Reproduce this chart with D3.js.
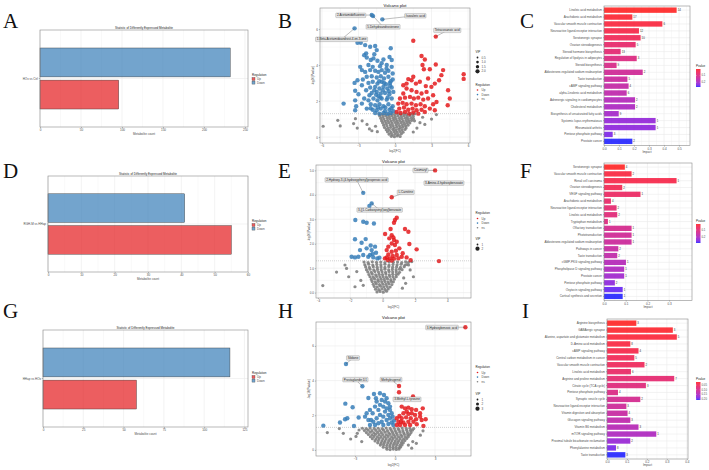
<!DOCTYPE html>
<html>
<head>
<meta charset="utf-8">
<script src="https://cdn.jsdelivr.net/npm/d3@7"></script>
<style>
body { margin: 0; background: #fff; }
svg { display: block; }
</style>
</head>
<body>
<script>
////// data: differential metabolite counts (A, D, G)
var regulation = ['Down', 'Up']
var countsA = [232, 96]
var countsD = [41, 55]
var countsG = [116, 58]
var groupA = 'HOx vs Ctrl'
var groupD = 'RGH-M vs HHap'
var groupG = 'HHap vs HOx'
var ticksA = [0, 50, 100, 150, 200, 250]
var ticksD = [0, 10, 20, 30, 40, 50, 60]
var ticksG = [0, 25, 50, 75, 100, 125]

////// data: volcano B  [log2FC, -log10 p]
var volcB_down = [[-1.91,6.78],[-1.8,6.72],[-1.04,6.54],[-3.32,6.04],[-3.08,5.24],[-2.81,5.24],[-2.45,5.11],[-2.04,5.02],[-1.63,5.06],[-1.5,4.83],[-0.35,4.93],[-2.37,4.65],[-2.53,4.55],
  [-2.32,4.42],[-1.99,4.28],[-1.77,4.37],[-1.44,4.24],[-0.95,4.31],[-0.27,4.28],[-2.86,3.9],[-2.72,3.72],[-2.18,4.0],[-1.83,3.9],[-1.23,3.94],[-0.68,4.0],[-0.27,3.9],
  [-3.08,3.16],[-2.45,3.62],[-2.04,3.72],[-1.63,3.68],[-1.36,3.62],[-1.09,3.72],[-0.82,3.57],[-0.54,3.68],[-0.19,3.53],[-2.32,3.35],[-1.91,3.38],[-1.5,3.31],[-1.17,3.38],[-0.9,3.25],[-0.54,3.35],[-0.19,3.2],[-2.64,3.2],
  [-3.32,3.01],[-2.18,3.01],[-1.83,3.07],[-1.44,2.97],[-1.09,3.07],[-0.74,2.94],[-0.41,3.01],[-2.04,2.75],[-1.63,2.79],[-1.28,2.7],[-0.95,2.79],[-0.63,2.7],[-0.27,2.75],[-2.37,2.6],[-1.91,2.45],[-1.5,2.51],[-1.17,2.42],[-0.82,2.45],[-0.46,2.38],[-0.14,2.51],[-3.27,2.57],[-3.0,2.38],[-2.72,2.88],
  [-4.22,1.86],[-3.27,2.04],[-3.19,1.71],[-3.27,1.49],[-2.53,2.14],[-2.18,2.04],[-1.77,2.14],[-1.44,2.04],[-1.09,2.14],[-0.68,2.08],[-0.27,2.14],[-1.99,1.82],[-1.63,1.77],[-1.28,1.82],[-0.95,1.71],[-0.54,1.82],[-0.19,1.71],[-2.32,1.58],[-1.83,1.52],[-1.5,1.49],[-1.17,1.58],[-0.82,1.45],[-0.46,1.52],[-0.14,1.43],[-1.63,1.34],[-1.28,1.3],[-0.95,1.34],[-0.63,1.3],[-0.35,1.34],[-2.72,1.86],[-2.1,2.32],[-1.36,2.27],
  [-1.7,2.6],[-1.0,2.6],[-0.6,2.2],[-1.2,2.2],[-0.3,1.6],[-0.8,1.65],[-1.4,1.65],[-2.0,1.6],[-0.5,2.55],[-1.55,2.35],[-0.9,3.0],[-1.3,3.1],[-0.35,3.1],[-0.7,3.8],[-1.1,4.1],[-0.45,4.45],[-1.7,4.6],[-0.4,2.85]]
var volcB_up = [[3.35,5.58],[1.5,5.35],[2.18,4.5],[2.45,4.31],[2.37,3.77],[2.26,4.0],[2.86,3.77],[3.35,4.03],[3.95,3.72],[3.81,3.44],[3.62,3.16],[5.64,3.49],[5.64,3.23],[4.36,2.6],[4.5,2.14],[4.33,1.77],
  [1.09,3.22],[0.68,2.88],[1.36,3.16],[1.72,2.97],[2.04,3.07],[2.53,2.83],[2.99,2.79],[3.27,2.97],[0.95,2.7],[1.36,2.6],[1.77,2.51],[2.18,2.42],[2.59,2.51],[3.13,2.32],[0.68,2.42],[0.41,2.14],[0.82,2.19],[1.23,2.23],[1.55,2.14],[1.91,2.19],[2.32,2.08],[2.72,2.14],[3.41,1.95],
  [0.27,1.86],[0.63,1.9],[0.95,1.82],[1.36,1.86],[1.72,1.77],[2.1,1.82],[2.45,1.71],[2.86,1.58],[3.13,1.82],[0.35,1.58],[0.74,1.64],[1.09,1.52],[1.44,1.58],[1.77,1.49],[2.18,1.52],[0.14,1.39],[0.46,1.34],[0.82,1.39],[1.17,1.3],[1.5,1.36],[1.91,1.3],[2.45,1.39],[3.27,1.49],[1.5,3.35],[2.72,3.25],[0.95,2.97]]
var volcB_ns = [[-0.3,0.04],[-0.05,0.02],[0.18,0.06],[0.42,0.03],[-0.48,0.16],[-0.22,0.13],[0.03,0.17],[0.27,0.14],[0.52,0.18],
  [-0.62,0.29],[-0.33,0.26],[-0.08,0.3],[0.17,0.27],[0.41,0.31],[0.66,0.27],[-0.72,0.41],[-0.47,0.38],[-0.18,0.42],[0.06,0.39],[0.31,0.43],[0.57,0.4],[0.82,0.42],
  [-0.86,0.53],[-0.58,0.5],[-0.36,0.54],[-0.09,0.51],[0.14,0.55],[0.42,0.52],[0.63,0.55],[0.91,0.51],[-0.93,0.66],[-0.66,0.63],[-0.38,0.67],[-0.16,0.64],[0.11,0.68],[0.36,0.64],[0.61,0.67],[0.86,0.63],[1.07,0.66],
  [-1.02,0.79],[-0.74,0.76],[-0.52,0.8],[-0.24,0.77],[0.02,0.81],[0.26,0.77],[0.51,0.8],[0.77,0.76],[0.99,0.8],[1.22,0.78],[-1.1,0.91],[-0.83,0.88],[-0.61,0.92],[-0.34,0.89],[-0.11,0.93],[0.16,0.89],[0.39,0.92],[0.66,0.88],[0.91,0.92],[1.14,0.89],[1.36,0.92],
  [-1.17,1.04],[-0.92,1.01],[-0.64,1.05],[-0.41,1.02],[-0.14,1.05],[0.09,1.01],[0.36,1.04],[0.59,1.02],[0.86,1.05],[1.09,1.01],[1.34,1.04],[1.52,1.02],
  [-1.26,1.17],[-0.99,1.14],[-0.76,1.18],[-0.49,1.15],[-0.26,1.18],[0.01,1.14],[0.24,1.17],[0.51,1.15],[0.74,1.18],[1.01,1.14],[1.24,1.17],[1.49,1.15],
  [-1.31,1.28],[-1.04,1.26],[-0.81,1.29],[-0.54,1.27],[-0.29,1.29],[-0.04,1.26],[0.21,1.29],[0.46,1.27],[0.71,1.29],[0.94,1.26],[1.21,1.28],[1.44,1.27],[1.62,1.29],
  [-5.9,0.6],[-4.7,0.93],[-4.5,0.62],[-3.4,0.75],[-3.25,1.02],[-3.1,0.5],[-2.7,0.9],[-2.3,0.7],[-2.1,0.45],[-1.9,0.35],[-1.6,0.6],[-1.45,0.3],[1.6,0.9],[1.8,0.5],[1.5,0.28],[2.05,0.8],[2.27,1.1],[2.45,0.7],[3.0,1.0],[3.4,1.25]]
var labelsB = [
  { name: '2-Acetamidofluorene', fc: -1.91, logp: 6.78 },
  { name: '5-Dehydroandrosterone', fc: -1.8, logp: 6.72 },
  { name: 'Isovaleric acid', fc: -1.04, logp: 6.54 },
  { name: '1-Beta-Acetamidoandrost-4-en-3-one', fc: -3.32, logp: 6.04 },
  { name: 'Tetracosanoic acid', fc: 3.35, logp: 5.58 }
]
var vipB = [0.5, 1.0, 1.5, 2.0]

////// data: volcano E
var volcE_down = [[-1.2,4.08],[-0.68,3.65],[-0.82,3.54],[-1.69,2.97],[-1.2,2.9],[-0.99,2.86],[-0.54,2.83],[-1.71,2.18],[-1.05,2.19],[-1.3,2.04],[-0.74,1.93],[-0.99,1.81],[-0.68,1.74],[-0.41,1.63],[-1.4,1.74],[-1.92,1.47],[-1.71,1.44],[-1.5,1.47],[-1.2,1.54],[-0.89,1.47],[-0.58,1.44],[-0.33,1.4],[-0.62,1.58],[-0.47,1.88],[-0.2,1.43],[-0.78,1.54]]
var volcE_up = [[3.24,5.0],[0.56,3.9],[3.48,1.29],[0.87,3.06],[0.76,2.97],[0.7,2.86],[0.49,2.6],[1.38,2.6],[1.59,2.49],[0.15,2.4],[0.56,2.35],[0.66,2.26],[0.7,2.15],[0.41,2.22],[0.87,2.08],[0.56,2.01],[0.76,1.95],[0.35,1.88],[1.03,1.81],[2.1,1.77],[1.65,1.99],[0.25,1.74],[0.56,1.67],[0.82,1.71],[0.35,1.56],[0.62,1.5],[0.87,1.54],[1.18,1.47],[1.48,1.44],[0.25,1.44],[0.45,1.4],[0.7,1.39],[0.97,1.4],[1.73,1.33],[0.31,1.33],[0.56,1.31],[0.14,1.4],[1.24,1.61]]
var volcE_ns = [[-0.35,0.03],[-0.16,0.05],[0.04,0.02],[0.24,0.06],[-0.44,0.14],[-0.24,0.12],[-0.05,0.15],[0.14,0.13],[0.34,0.15],
  [-0.52,0.25],[-0.33,0.23],[-0.13,0.26],[0.07,0.24],[0.27,0.25],[0.46,0.23],[-0.58,0.34],[-0.39,0.36],[-0.2,0.33],[0.0,0.35],[0.2,0.34],[0.39,0.36],[0.57,0.33],
  [-0.65,0.45],[-0.45,0.43],[-0.26,0.46],[-0.06,0.44],[0.14,0.45],[0.33,0.43],[0.52,0.46],[0.66,0.44],[-0.7,0.54],[-0.5,0.56],[-0.3,0.53],[-0.1,0.55],[0.1,0.54],[0.3,0.56],[0.5,0.53],[0.72,0.55],
  [-0.78,0.65],[-0.58,0.63],[-0.37,0.66],[-0.17,0.64],[0.03,0.65],[0.23,0.63],[0.44,0.66],[0.64,0.64],[0.84,0.65],[-0.85,0.74],[-0.64,0.76],[-0.43,0.73],[-0.22,0.75],[-0.01,0.74],[0.2,0.76],[0.41,0.73],[0.62,0.75],[0.83,0.74],[0.96,0.76],
  [-0.92,0.85],[-0.7,0.83],[-0.48,0.86],[-0.26,0.84],[-0.04,0.85],[0.18,0.83],[0.4,0.86],[0.62,0.84],[0.84,0.85],[1.04,0.83],[-1.0,0.94],[-0.78,0.96],[-0.55,0.93],[-0.32,0.95],[-0.09,0.94],[0.14,0.96],[0.37,0.93],[0.6,0.95],[0.83,0.94],[1.04,0.96],[1.2,0.94],
  [-1.05,1.05],[-0.82,1.03],[-0.58,1.06],[-0.34,1.04],[-0.1,1.05],[0.14,1.03],[0.38,1.06],[0.62,1.04],[0.86,1.05],[1.1,1.03],[1.33,1.06],
  [-1.1,1.14],[-0.86,1.16],[-0.61,1.13],[-0.36,1.15],[-0.11,1.14],[0.14,1.16],[0.39,1.13],[0.64,1.15],[0.89,1.14],[1.14,1.16],[1.38,1.13],[1.5,1.15],
  [-1.15,1.25],[-0.9,1.23],[-0.64,1.26],[-0.38,1.24],[-0.12,1.25],[0.14,1.23],[0.4,1.26],[0.66,1.24],[0.92,1.25],[1.18,1.23],[1.42,1.26],[1.6,1.24],
  [-3.7,0.29],[-2.85,0.84],[-2.33,1.13],[-2.23,0.99],[-2.1,0.65],[-1.71,0.24],[-1.6,0.86],[-1.35,0.5],[-1.2,0.3],[1.6,1.13],[1.7,0.93],[1.9,0.65],[1.42,0.38],[1.22,0.18],[1.8,1.27],[1.3,0.6]]
var labelsE = [
  { name: 'Coumaryl', fc: 3.24, logp: 5.0 },
  { name: '3-Amino-4-hydroxybenzoate', fc: 3.48, logp: 1.29 },
  { name: 'L-Carnitine', fc: 0.56, logp: 3.9 },
  { name: '2-Hydroxy-3-(4-hydroxyphenyl)propenoic acid', fc: -1.2, logp: 4.08 },
  { name: '3-[(1-Carboxyvinyl)oxy]benzoate', fc: -0.68, logp: 3.65 }
]
var vipE = [1, 2]

////// data: volcano H
var volcH_down = [[-3.68,4.96],[-2.45,3.67],[-2.0,3.0],[-1.58,3.23],[-1.43,2.98],[-1.13,3.27],[-0.83,3.17],[-3.73,2.67],[-3.18,2.46],[-3.75,1.77],[-3.58,1.83],[-4.13,1.58],[-5.38,1.4],[-3.08,1.38],[-2.73,1.87],[-2.25,1.92],[-2.13,2.12],
  [-1.88,2.31],[-1.8,1.73],[-1.68,2.12],[-1.5,2.5],[-1.38,2.79],[-1.25,2.31],[-1.13,2.6],[-1.0,2.88],[-0.88,2.5],[-0.75,2.79],[-0.63,2.4],[-0.5,2.69],[-0.38,2.31],[-0.25,2.12],[-1.63,1.63],[-1.38,1.83],[-1.13,2.02],[-0.88,1.92],[-0.63,1.73],[-0.38,1.83],
  [-1.25,1.54],[-0.88,1.44],[-0.5,1.5],[-0.25,1.58],[-0.13,1.44],[-1.0,1.63],[-0.75,2.21],[-0.5,2.02],[-1.5,1.44],[-1.88,1.44],[-2.0,1.73],[-0.63,2.98],[-0.38,2.5],[-0.18,1.92],[-0.08,1.69]]
var volcH_up = [[5.28,7.08],[0.3,3.69],[0.3,3.33],[1.35,3.08],[0.5,2.5],[0.75,2.4],[1.0,2.44],[1.25,2.35],[1.58,2.31],[2.08,2.4],[1.88,2.12],[1.5,2.02],[1.0,2.08],[0.63,2.12],[0.33,1.96],[0.5,1.83],[0.83,1.88],[1.18,1.83],[1.58,1.77],[2.0,1.73],[2.3,1.77],
  [1.38,1.63],[1.0,1.63],[0.63,1.58],[0.25,1.63],[0.38,1.44],[0.75,1.44],[1.13,1.44],[1.63,1.48],[2.13,1.38],[0.13,1.44],[1.88,1.92],[1.25,2.12],[0.88,2.21],[0.13,1.83],[0.45,1.63]]
var volcH_ns = [[-0.6,0.04],[-0.37,0.02],[-0.13,0.05],[0.1,0.03],[0.3,0.05],[-0.88,0.16],[-0.64,0.14],[-0.4,0.17],[-0.16,0.15],[0.08,0.16],[0.32,0.14],[0.42,0.17],
  [-1.1,0.28],[-0.86,0.3],[-0.61,0.27],[-0.37,0.29],[-0.12,0.28],[0.12,0.3],[0.36,0.27],[0.52,0.29],[-1.3,0.41],[-1.05,0.39],[-0.8,0.42],[-0.55,0.4],[-0.3,0.41],[-0.05,0.39],[0.2,0.42],[0.45,0.4],[0.62,0.41],
  [-1.5,0.52],[-1.25,0.54],[-0.99,0.51],[-0.74,0.53],[-0.48,0.52],[-0.23,0.54],[0.02,0.51],[0.27,0.53],[0.52,0.52],[0.74,0.54],
  [-1.7,0.65],[-1.44,0.63],[-1.18,0.66],[-0.92,0.64],[-0.66,0.65],[-0.4,0.63],[-0.14,0.66],[0.12,0.64],[0.38,0.65],[0.64,0.63],[0.88,0.66],
  [-1.85,0.76],[-1.58,0.78],[-1.32,0.75],[-1.05,0.77],[-0.79,0.76],[-0.52,0.78],[-0.26,0.75],[0.0,0.77],[0.26,0.76],[0.52,0.78],[0.78,0.75],[1.0,0.77],
  [-2.0,0.89],[-1.73,0.87],[-1.46,0.9],[-1.19,0.88],[-0.92,0.89],[-0.65,0.87],[-0.38,0.9],[-0.11,0.88],[0.16,0.89],[0.43,0.87],[0.7,0.9],[0.95,0.88],[1.1,0.89],
  [-2.15,1.0],[-1.87,1.02],[-1.59,0.99],[-1.31,1.01],[-1.03,1.0],[-0.75,1.02],[-0.47,0.99],[-0.19,1.01],[0.09,1.0],[0.37,1.02],[0.65,0.99],[0.93,1.01],[1.2,1.0],
  [-2.3,1.12],[-2.02,1.14],[-1.73,1.11],[-1.44,1.13],[-1.15,1.12],[-0.86,1.14],[-0.57,1.11],[-0.28,1.13],[0.01,1.12],[0.3,1.14],[0.59,1.11],[0.88,1.13],[1.16,1.12],[1.3,1.14],
  [-2.45,1.25],[-2.16,1.23],[-1.86,1.26],[-1.56,1.24],[-1.26,1.25],[-0.96,1.23],[-0.66,1.26],[-0.36,1.24],[-0.06,1.25],[0.24,1.23],[0.54,1.26],[0.84,1.24],[1.12,1.25],[1.4,1.23],
  [-5.08,1.0],[-4.18,1.23],[-3.88,0.96],[-3.33,0.63],[-2.83,0.96],[-2.93,0.78],[-2.5,0.48],[-2.7,1.15],[1.33,0.48],[1.6,0.38],[1.0,0.28],[1.25,0.1],[1.9,0.85],[2.1,1.1]]
var labelsH = [
  { name: '3-Hydroxybenzoic acid', fc: 5.28, logp: 7.08 },
  { name: 'Sildione', fc: -3.68, logp: 4.96 },
  { name: 'Prostaglandin D1', fc: -2.45, logp: 3.67 },
  { name: 'Methyleugenol', fc: 0.3, logp: 3.69 },
  { name: '3-Methyl-L-tyrosine', fc: 1.35, logp: 3.08 }
]
var vipH = [1, 2, 3]

////// data: KEGG pathway enrichment (C, F, I)
var pathC = ['Linoleic acid metabolism', 'Arachidonic acid metabolism', 'Vascular smooth muscle contraction', 'Neuroactive ligand-receptor interaction', 'Serotonergic synapse', 'Ovarian steroidogenesis', 'Steroid hormone biosynthesis', 'Regulation of lipolysis in adipocytes', 'Steroid biosynthesis', 'Aldosterone-regulated sodium reabsorption', 'Taste transduction', 'cAMP signaling pathway', 'alpha-Linolenic acid metabolism', 'Adrenergic signaling in cardiomyocytes', 'Cholesterol metabolism', 'Biosynthesis of unsaturated fatty acids', 'Systemic lupus erythematosus', 'Rheumatoid arthritis', 'Pentose phosphate pathway', 'Prostate cancer']
var impactC = [0.484, 0.189, 0.389, 0.233, 0.244, 0.211, 0.111, 0.218, 0.084, 0.258, 0.156, 0.164, 0.151, 0.207, 0.207, 0.098, 0.344, 0.344, 0.058, 0.189]
var hitsC = [14, 17, 6, 12, 10, 5, 13, 3, 9, 2, 5, 4, 6, 2, 2, 9, 1, 1, 3, 2]
var pvalC = [0.005, 0.012, 0.02, 0.03, 0.045, 0.07, 0.08, 0.1, 0.11, 0.13, 0.14, 0.15, 0.16, 0.18, 0.19, 0.2, 0.22, 0.225, 0.24, 0.27]
var pTicksC = [0.1, 0.2]

var pathF = ['Serotonergic synapse', 'Vascular smooth muscle contraction', 'Renal cell carcinoma', 'Ovarian steroidogenesis', 'VEGF signaling pathway', 'Arachidonic acid metabolism', 'Neuroactive ligand-receptor interaction', 'Linoleic acid metabolism', 'Tryptophan metabolism', 'Olfactory transduction', 'Phototransduction', 'Aldosterone-regulated sodium reabsorption', 'Pathways in cancer', 'Taste transduction', 'cGMP-PKG signaling pathway', 'Phospholipase D signaling pathway', 'Prostate cancer', 'Pentose phosphate pathway', 'Oxytocin signaling pathway', 'Cortisol synthesis and secretion']
var impactF = [0.096, 0.127, 0.334, 0.084, 0.168, 0.032, 0.058, 0.061, 0.018, 0.127, 0.127, 0.127, 0.066, 0.061, 0.101, 0.093, 0.093, 0.05, 0.086, 0.086]
var hitsF = [4, 2, 1, 2, 1, 4, 2, 2, 1, 1, 1, 1, 2, 2, 1, 1, 1, 2, 1, 1]
var pvalF = [0.014, 0.03, 0.04, 0.05, 0.07, 0.08, 0.09, 0.1, 0.11, 0.13, 0.14, 0.15, 0.16, 0.17, 0.19, 0.2, 0.22, 0.24, 0.27, 0.286]
var pTicksF = [0.1, 0.2]

var pathI = ['Arginine biosynthesis', 'GABAergic synapse', 'Alanine, aspartate and glutamate metabolism', 'D-Amino acid metabolism', 'cAMP signaling pathway', 'Central carbon metabolism in cancer', 'Vascular smooth muscle contraction', 'Linoleic acid metabolism', 'Arginine and proline metabolism', 'Citrate cycle (TCA cycle)', 'Pentose phosphate pathway', 'Synaptic vesicle cycle', 'Neuroactive ligand-receptor interaction', 'Vitamin digestion and absorption', 'Glucagon signaling pathway', 'Vitamin B6 metabolism', 'mTOR signaling pathway', 'Proximal tubule bicarbonate reclamation', 'Phenylalanine metabolism', 'Taste transduction']
var impactI = [0.147, 0.33, 0.35, 0.117, 0.158, 0.137, 0.188, 0.12, 0.337, 0.195, 0.055, 0.167, 0.097, 0.103, 0.117, 0.158, 0.247, 0.117, 0.045, 0.092]
var hitsI = [3, 3, 5, 8, 4, 5, 2, 6, 7, 3, 4, 2, 3, 4, 3, 3, 1, 2, 8, 3]
var pvalI = [0.017, 0.02, 0.025, 0.03, 0.035, 0.045, 0.05, 0.06, 0.07, 0.08, 0.09, 0.1, 0.11, 0.12, 0.13, 0.14, 0.15, 0.17, 0.19, 0.21]
var pTicksI = [0.05, 0.10, 0.15, 0.20]

////// styles
var font = "'Liberation Sans', Arial, sans-serif"
var upColor = '#E41A1C', downColor = '#377EB8', nsColor = '#7F7F7F'
var gridColor = '#EBEBEB', boxColor = '#8a8a8a', textColor = '#4d4d4d'
var pCut = -Math.log10(0.05)

var svg = d3.select('body').append('svg').attr('width', 709).attr('height', 470)
  .style('font-family', font)
svg.append('rect').attr('width', 709).attr('height', 470).attr('fill', '#fff')
var defs = svg.append('defs')

//////
function txt(g, x, y, s, size, anchor) {
  return g.append('text').attr('x', x).attr('y', y).text(s)
    .attr('font-size', size).attr('fill', textColor)
    .attr('text-anchor', anchor || 'start')
}

function styleAxis(ax) {
  ax.attr('font-size', null).attr('font-family', null)
  ax.select('.domain').remove()
  ax.selectAll('line').attr('stroke', '#333').attr('stroke-width', 0.3)
  ax.selectAll('text').attr('fill', textColor).attr('font-size', 3)
}

function minorOf(ticks, dom) {
  var step = ticks[1] - ticks[0]
  var out = []
  for (var t = ticks[0] - step / 2; t <= dom[1]; t += step) {
    if (t >= dom[0]) out.push(t)
  }
  return out
}

function letter(s, x, y) {
  svg.append('text').attr('x', x).attr('y', y).text(s)
    .attr('font-family', "'Liberation Serif', 'DejaVu Serif', serif")
    .attr('font-size', 21).attr('fill', '#111')
}

////// A, D, G
function countPanel(p) {
  var g = svg.append('g')
  var x = d3.scaleLinear().domain([0, p.xmax]).range([p.left, p.right])
  var y = d3.scaleBand().domain(regulation).range([p.top, p.bottom]).paddingInner(0.1).paddingOuter(0.56)
  var cy = (p.top + p.bottom) / 2

  g.selectAll('line.minor').data(minorOf(p.ticks, [0, p.xmax])).enter().append('line')
    .attr('x1', d => x(d)).attr('x2', d => x(d)).attr('y1', p.top).attr('y2', p.bottom)
    .attr('stroke', gridColor).attr('stroke-width', 0.3)
  g.selectAll('line.major').data(p.ticks).enter().append('line')
    .attr('x1', d => x(d)).attr('x2', d => x(d)).attr('y1', p.top).attr('y2', p.bottom)
    .attr('stroke', gridColor).attr('stroke-width', 0.6)
  g.append('line').attr('x1', p.left).attr('x2', p.right).attr('y1', cy).attr('y2', cy)
    .attr('stroke', gridColor).attr('stroke-width', 0.6)

  g.selectAll('rect.bar').data(regulation).enter().append('rect')
    .attr('x', x(0)).attr('y', d => y(d))
    .attr('width', (d, i) => x(p.counts[i]) - x(0)).attr('height', y.bandwidth())
    .attr('fill', d => d === 'Up' ? upColor : downColor).attr('fill-opacity', 0.7)
    .attr('stroke', '#333').attr('stroke-width', 0.4)

  g.append('rect').attr('x', p.left).attr('y', p.top).attr('width', p.right - p.left).attr('height', p.bottom - p.top)
    .attr('fill', 'none').attr('stroke', boxColor).attr('stroke-width', 0.6)

  var ax = g.append('g').attr('transform', 'translate(0,' + p.bottom + ')')
    .call(d3.axisBottom(x).tickValues(p.ticks).tickSize(1.2).tickPadding(0.8))
  styleAxis(ax)
  g.append('line').attr('x1', p.left - 1.2).attr('x2', p.left).attr('y1', cy).attr('y2', cy)
    .attr('stroke', '#333').attr('stroke-width', 0.3)
  txt(g, p.left - 2, cy + 1, p.group, 3, 'end')
  txt(g, (p.left + p.right) / 2, p.top - 1.5, 'Statistic of Differently Expressed Metabolite', 3, 'middle').attr('fill', '#222')
  txt(g, (p.left + p.right) / 2, p.bottom + 7.5, 'Metabolite count', 3, 'middle')

  // legend
  txt(g, p.legendX, p.legendY, 'Regulation', 3).attr('fill', '#222')
  var keys = [['Up', upColor], ['Down', downColor]]
  keys.forEach(function (k, i) {
    var ky = p.legendY + 1.5 + i * 3.6
    g.append('rect').attr('x', p.legendX).attr('y', ky).attr('width', 3).attr('height', 3)
      .attr('fill', k[1]).attr('fill-opacity', 0.7).attr('stroke', '#333').attr('stroke-width', 0.3)
    txt(g, p.legendX + 5, ky + 2.4, k[0], 3)
  })
}

////// B, E, H
function volcanoPanel(p) {
  var g = svg.append('g')
  var x = d3.scaleLinear().domain(p.xdom).range([p.left, p.right])
  var y = d3.scaleLinear().domain(p.ydom).range([p.bottom, p.top])

  g.selectAll('line.xm').data(minorOf(p.xticks, p.xdom)).enter().append('line')
    .attr('x1', d => x(d)).attr('x2', d => x(d)).attr('y1', p.top).attr('y2', p.bottom)
    .attr('stroke', gridColor).attr('stroke-width', 0.3)
  g.selectAll('line.ym').data(minorOf(p.yticks, p.ydom)).enter().append('line')
    .attr('y1', d => y(d)).attr('y2', d => y(d)).attr('x1', p.left).attr('x2', p.right)
    .attr('stroke', gridColor).attr('stroke-width', 0.3)
  g.selectAll('line.xg').data(p.xticks).enter().append('line')
    .attr('x1', d => x(d)).attr('x2', d => x(d)).attr('y1', p.top).attr('y2', p.bottom)
    .attr('stroke', gridColor).attr('stroke-width', 0.6)
  g.selectAll('line.yg').data(p.yticks).enter().append('line')
    .attr('y1', d => y(d)).attr('y2', d => y(d)).attr('x1', p.left).attr('x2', p.right)
    .attr('stroke', gridColor).attr('stroke-width', 0.6)

  g.selectAll('circle.ns').data(p.ns).enter().append('circle')
    .attr('cx', d => x(d[0])).attr('cy', d => y(d[1])).attr('r', 1.6)
    .attr('fill', nsColor).attr('fill-opacity', 0.9)
  g.selectAll('circle.down').data(p.down).enter().append('circle')
    .attr('cx', d => x(d[0])).attr('cy', d => y(d[1])).attr('r', 2.2)
    .attr('fill', downColor).attr('fill-opacity', 0.85)
  g.selectAll('circle.up').data(p.up).enter().append('circle')
    .attr('cx', d => x(d[0])).attr('cy', d => y(d[1])).attr('r', 2.2)
    .attr('fill', upColor).attr('fill-opacity', 0.85)

  g.append('line').attr('x1', p.left).attr('x2', p.right).attr('y1', y(pCut)).attr('y2', y(pCut))
    .attr('stroke', '#888').attr('stroke-width', 0.4).attr('stroke-dasharray', '1,1')

  // labels
  var segG = g.append('g'), boxG = g.append('g'), textG = g.append('g')
  p.labels.forEach(function (l, i) {
    var off = p.labelOffsets[i]
    var px = x(l.fc), py = y(l.logp)
    var cx = px + off[0], cy = py + off[1]
    if (off[2]) {
      segG.append('line').attr('x1', px).attr('y1', py).attr('x2', cx).attr('y2', cy)
        .attr('stroke', '#444').attr('stroke-width', 0.35)
    }
    var t = txt(textG, cx, cy + 1, l.name, 3, 'middle').attr('fill', '#222')
    var w = t.node().getComputedTextLength() + 2.4
    boxG.append('rect').attr('x', cx - w / 2).attr('y', cy - 2.3).attr('width', w).attr('height', 4.6)
      .attr('rx', 0.7).attr('fill', '#E6E6E6').attr('stroke', '#777').attr('stroke-width', 0.3)
  })

  g.append('rect').attr('x', p.left).attr('y', p.top).attr('width', p.right - p.left).attr('height', p.bottom - p.top)
    .attr('fill', 'none').attr('stroke', boxColor).attr('stroke-width', 0.6)

  var ax = g.append('g').attr('transform', 'translate(0,' + p.bottom + ')')
    .call(d3.axisBottom(x).tickValues(p.xticks).tickSize(1.2).tickPadding(0.8))
  styleAxis(ax)
  var ay = g.append('g').attr('transform', 'translate(' + p.left + ',0)')
    .call(d3.axisLeft(y).tickValues(p.yticks).tickSize(1.2).tickPadding(0.8))
  styleAxis(ay)

  txt(g, (p.left + p.right) / 2, p.titleY, 'Volcano plot', 4.2, 'middle').attr('fill', '#111')
  txt(g, (p.left + p.right) / 2, p.xlabY, 'log2(FC)', 3, 'middle')
  txt(g, 0, 0, '-log10(Pvalue)', 3, 'middle')
    .attr('transform', 'translate(' + (p.left - 6.5) + ',' + ((p.top + p.bottom) / 2) + ') rotate(-90)')

  // legends
  var vipR = d3.scaleLinear().domain(d3.extent(p.vip)).range([0.9, 2.1])
  var regItems = [['Up', upColor], ['Down', downColor], ['ns', nsColor]]
  p.legend.forEach(function (b) {
    txt(g, p.legendX, b.y, b.kind === 'vip' ? 'VIP' : 'Regulation', 3).attr('fill', '#222')
    var items = b.kind === 'vip'
      ? p.vip.map(v => [b.fmt ? v.toFixed(1) : String(v), '#222', vipR(v)])
      : regItems.map(r => [r[0], r[1], 0.8])
    items.forEach(function (it, i) {
      var cy = b.y + 4.5 + i * b.step
      g.append('circle').attr('cx', p.legendX + 2).attr('cy', cy).attr('r', it[2]).attr('fill', it[1])
      txt(g, p.legendX + 6, cy + 1, it[0], 3)
    })
  })
}

////// C, F, I
function pathwayPanel(p) {
  var g = svg.append('g')
  var x = d3.scaleLinear().domain([0, p.xmax]).range([p.left, p.right])
  var y = d3.scaleBand().domain(p.names).range([p.top, p.bottom]).paddingInner(0.22).paddingOuter(0.21)
  var pext = d3.extent(p.pvals)
  var color = d3.scaleLinear().domain(pext).range(['#FF0000', '#0000FF']).interpolate(d3.interpolateLab)

  g.selectAll('line.xm').data(minorOf(p.ticks, [0, p.xmax])).enter().append('line')
    .attr('x1', d => x(d)).attr('x2', d => x(d)).attr('y1', p.top).attr('y2', p.bottom)
    .attr('stroke', gridColor).attr('stroke-width', 0.3)
  g.selectAll('line.xg').data(p.ticks).enter().append('line')
    .attr('x1', d => x(d)).attr('x2', d => x(d)).attr('y1', p.top).attr('y2', p.bottom)
    .attr('stroke', gridColor).attr('stroke-width', 0.6)
  g.selectAll('line.yg').data(p.names).enter().append('line')
    .attr('y1', d => y(d) + y.bandwidth() / 2).attr('y2', d => y(d) + y.bandwidth() / 2)
    .attr('x1', p.left).attr('x2', p.right).attr('stroke', gridColor).attr('stroke-width', 0.6)

  g.selectAll('rect.bar').data(p.names).enter().append('rect')
    .attr('x', x(0)).attr('y', d => y(d))
    .attr('width', (d, i) => x(p.impact[i]) - x(0)).attr('height', y.bandwidth())
    .attr('fill', (d, i) => color(p.pvals[i])).attr('fill-opacity', 0.78)
  g.selectAll('text.hit').data(p.names).enter().append('text')
    .attr('x', (d, i) => x(p.impact[i]) + 1).attr('y', d => y(d) + y.bandwidth() / 2 + 1)
    .text((d, i) => p.hits[i]).attr('font-size', 2.8).attr('fill', '#333')

  g.append('rect').attr('x', p.left).attr('y', p.top).attr('width', p.right - p.left).attr('height', p.bottom - p.top)
    .attr('fill', 'none').attr('stroke', boxColor).attr('stroke-width', 0.6)

  var ax = g.append('g').attr('transform', 'translate(0,' + p.bottom + ')')
    .call(d3.axisBottom(x).tickValues(p.ticks).tickFormat(d3.format('.1f')).tickSize(1.2).tickPadding(0.8))
  styleAxis(ax)
  var ay = g.append('g').attr('transform', 'translate(' + p.left + ',0)')
    .call(d3.axisLeft(y).tickSize(1).tickPadding(1))
  styleAxis(ay)
  txt(g, (p.left + p.right) / 2, p.bottom + 7, 'Impact', 3, 'middle')

  // colour bar
  var gid = 'grad' + p.id
  var grad = defs.append('linearGradient').attr('id', gid).attr('x1', 0).attr('x2', 0).attr('y1', 0).attr('y2', 1)
  d3.range(0, 1.01, 0.1).forEach(function (f) {
    grad.append('stop').attr('offset', f).attr('stop-color', color(pext[0] + f * (pext[1] - pext[0])))
  })
  var ly = d3.scaleLinear().domain(pext).range([p.barTop, p.barBottom])
  txt(g, p.legendX, p.barTop - 2, 'Pvalue', 3).attr('fill', '#222')
  g.append('rect').attr('x', p.legendX).attr('y', p.barTop).attr('width', 4.5).attr('height', p.barBottom - p.barTop)
    .attr('fill', 'url(#' + gid + ')').attr('fill-opacity', 0.78)
  p.pticks.forEach(function (t) {
    g.append('line').attr('x1', p.legendX).attr('x2', p.legendX + 0.9).attr('y1', ly(t)).attr('y2', ly(t))
      .attr('stroke', '#fff').attr('stroke-width', 0.3)
    g.append('line').attr('x1', p.legendX + 3.6).attr('x2', p.legendX + 4.5).attr('y1', ly(t)).attr('y2', ly(t))
      .attr('stroke', '#fff').attr('stroke-width', 0.3)
    txt(g, p.legendX + 5.5, ly(t) + 1, p.pfmt(t), 2.8)
  })
}

////// draw
letter('A', 3, 28); letter('B', 278, 28); letter('C', 520, 28)
letter('D', 3, 178); letter('E', 278, 178); letter('F', 520, 178)
letter('G', 3, 318); letter('H', 278, 318); letter('I', 522, 318)

countPanel({ left: 40, right: 248, top: 30, bottom: 127, xmax: 253.7, ticks: ticksA, counts: countsA, group: groupA, legendX: 252, legendY: 76 })
countPanel({ left: 48, right: 248, top: 176, bottom: 272, xmax: 60, ticks: ticksD, counts: countsD, group: groupD, legendX: 252, legendY: 222 })
countPanel({ left: 43, right: 248, top: 330, bottom: 427, xmax: 127.2, ticks: ticksG, counts: countsG, group: groupG, legendX: 252, legendY: 374 })

volcanoPanel({ left: 320, right: 470, top: 8, bottom: 143, xdom: [-6.16, 6.16], ydom: [-0.33, 7.17],
  xticks: [-6, -3, 0, 3, 6], yticks: [0, 2, 4, 6], titleY: 6.5, xlabY: 152,
  ns: volcB_ns, down: volcB_down, up: volcB_up, labels: labelsB,
  labelOffsets: [[-21, 0.3, 1], [10, 10.7, 1], [33, -3.6, 1], [-13, 11, 1], [11.5, -6.3, 1]],
  vip: vipB, legendX: 475.5, legend: [{ kind: 'vip', y: 53, step: 4.6, fmt: true }, { kind: 'reg', y: 85.5, step: 4.6 }] })

volcanoPanel({ left: 316, right: 471, top: 165, bottom: 298, xdom: [-4.12, 5.46], ydom: [-0.22, 5.22],
  xticks: [-4, -2, 0, 2, 4], yticks: [0, 1, 2, 3, 4, 5], titleY: 162.5, xlabY: 308,
  ns: volcE_ns, down: volcE_down, up: volcE_up, labels: labelsE,
  labelOffsets: [[-14.6, 0, 1], [5, -78, 0], [14, -5, 1], [-6.6, -13, 1], [8, 6.6, 1]],
  vip: vipE, legendX: 475.5, legend: [{ kind: 'reg', y: 214, step: 4.6 }, { kind: 'vip', y: 240, step: 4.2 }] })

volcanoPanel({ left: 316, right: 471, top: 322, bottom: 456, xdom: [-5.93, 5.7], ydom: [-0.35, 7.38],
  xticks: [-3, 0, 3], yticks: [0, 2, 4, 6], titleY: 318.5, xlabY: 466,
  ns: volcH_ns, down: volcH_down, up: volcH_up, labels: labelsH,
  labelOffsets: [[-23.4, 0.3, 1], [7, -6, 1], [-7, -6.7, 1], [-8, -6.4, 1], [-6, 2.8, 1]],
  vip: vipH, legendX: 475.5, legend: [{ kind: 'reg', y: 368, step: 4.6 }, { kind: 'vip', y: 395, step: 4.6 }] })

pathwayPanel({ id: 'C', left: 604, right: 690, top: 6, bottom: 145.5, xmax: 0.573, ticks: [0, 0.1, 0.2, 0.3, 0.4, 0.5],
  names: pathC, impact: impactC, hits: hitsC, pvals: pvalC, pticks: pTicksC, pfmt: d3.format('.1f'),
  legendX: 696, barTop: 69, barBottom: 87 })
pathwayPanel({ id: 'F', left: 604, right: 692, top: 163, bottom: 300.5, xmax: 0.405, ticks: [0, 0.1, 0.2, 0.3],
  names: pathF, impact: impactF, hits: hitsF, pvals: pvalF, pticks: pTicksF, pfmt: d3.format('.1f'),
  legendX: 696, barTop: 224, barBottom: 243 })
pathwayPanel({ id: 'I', left: 607, right: 688, top: 319, bottom: 459, xmax: 0.406, ticks: [0, 0.1, 0.2, 0.3, 0.4],
  names: pathI, impact: impactI, hits: hitsI, pvals: pvalI, pticks: pTicksI, pfmt: d3.format('.2f'),
  legendX: 696, barTop: 382, barBottom: 400 })
</script>
</body>
</html>
